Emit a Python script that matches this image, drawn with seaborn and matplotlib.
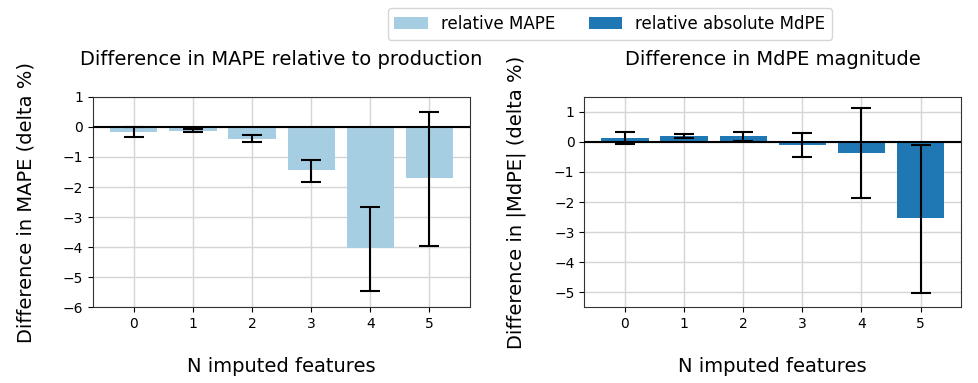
"""Relative MAPE / MdPE differences versus number of imputed features."""

import matplotlib

matplotlib.use("Agg")
import matplotlib.pyplot as plt
import pandas as pd
import seaborn as sns
from matplotlib.patches import Patch

n_imputed = [0, 1, 2, 3, 4, 5]

mape_delta = [-0.16, -0.12, -0.39, -1.44, -4.03, -1.71]
mape_center = [-0.17, -0.12, -0.385, -1.46, -4.07, -1.73]
mape_err = [0.18, 0.06, 0.13, 0.36, 1.39, 2.24]

mdpe_delta = [0.12, 0.20, 0.20, -0.09, -0.37, -2.53]
mdpe_center = [0.13, 0.20, 0.19, -0.11, -0.37, -2.56]
mdpe_err = [0.20, 0.07, 0.15, 0.40, 1.49, 2.47]

light_blue = "#a6cee3"
dark_blue = "#1f78b4"

df = pd.DataFrame({
    "n": n_imputed,
    "mape": mape_delta,
    "mdpe": mdpe_delta,
})

fig, axes = plt.subplots(1, 2, figsize=(9.79, 3.83), dpi=100)

panels = [
    (axes[0], "mape", mape_center, mape_err, light_blue,
     "Difference in MAPE relative to production", "Difference in MAPE (delta %)", (-6, 1)),
    (axes[1], "mdpe", mdpe_center, mdpe_err, dark_blue,
     "Difference in MdPE magnitude", "Difference in |MdPE| (delta %)", (-5.5, 1.5)),
]

for ax, col, center, err, color, title, ylabel, ylim in panels:
    sns.barplot(data=df, x="n", y=col, color=color, width=0.8, errorbar=None,
                saturation=1, ax=ax, zorder=2)
    ax.errorbar(range(len(n_imputed)), center, yerr=err, fmt="none",
                ecolor="black", elinewidth=1.5, capsize=7, capthick=1.5, zorder=4)
    ax.axhline(0, color="black", linewidth=1.5, zorder=3)
    ax.set_ylim(*ylim)
    ax.grid(True, color="#d5d5d5", linewidth=1, zorder=0)
    ax.set_axisbelow(True)
    ax.set_title(title, fontsize=14, pad=23)
    ax.set_xlabel("N imputed features", fontsize=14, labelpad=19)
    ax.set_ylabel(ylabel, fontsize=14, labelpad=20)
    ax.tick_params(labelsize=10)
    for spine in ax.spines.values():
        spine.set_color("#333333")

handles = [
    Patch(facecolor=light_blue, label="relative MAPE"),
    Patch(facecolor=dark_blue, label="relative absolute MdPE"),
]
fig.legend(handles=handles, loc="upper center", bbox_to_anchor=(0.623, 1.0),
           ncol=2, fontsize=12, frameon=True, columnspacing=2.0)

fig.subplots_adjust(left=0.095, right=0.982, top=0.747, bottom=0.198, wspace=0.302)
fig.savefig("out.png", dpi=100)
plt.close(fig)
